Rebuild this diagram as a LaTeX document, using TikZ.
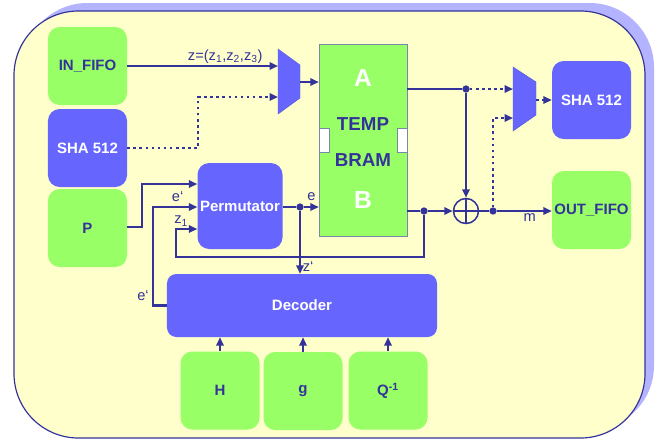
\documentclass[tikz,border=0pt]{standalone}
\usepackage{fontspec}
\setmainfont{Liberation Sans}
\usepackage{tikz}
\usetikzlibrary{arrows.meta,calc,positioning}

\definecolor{boxgreen}{HTML}{99FF66}
\definecolor{boxblue}{HTML}{6666FF}
\definecolor{linkblue}{HTML}{333399}
\definecolor{bgyellow}{HTML}{FFFFCC}
\definecolor{shadowblue}{HTML}{B3B3FF}
\definecolor{bramedge}{HTML}{7788AA}

\tikzset{
  greenbox/.style={fill=boxgreen, rounded corners=10pt, inner sep=0pt,
    minimum width=2.37cm, minimum height=2.34cm, text=linkblue,
    font=\fontsize{12.8}{14}\selectfont\bfseries},
  bluebox/.style={greenbox, fill=boxblue, text=white},
  wire/.style={draw=linkblue, line width=1.9pt},
  dotwire/.style={wire, dash pattern=on 2.2pt off 3pt},
  tip/.style={-{Triangle[length=2.5mm,width=2.2mm]}},
  jdot/.style={circle, fill=linkblue, inner sep=0pt, minimum size=2.2mm},
  lbl/.style={text=linkblue, font=\fontsize{12.5}{14}\selectfont, inner sep=1.5pt},
  bramtxt/.style={font=\fontsize{16}{18}\selectfont\bfseries, text=linkblue}
}

\begin{document}
\begin{tikzpicture}[x=0.03cm, y=-0.03cm]
  \useasboundingbox (0,0) rectangle (668,439);
  % frame with shadow
  \fill[shadowblue, rounded corners=55pt] (23,3) rectangle (654,430);
  \filldraw[fill=bgyellow, draw=linkblue, line width=1pt, rounded corners=55pt] (14,11) rectangle (645,438);

  % left column
  \node[greenbox] (infifo) at (87.5,66) {IN\_FIFO};
  \node[bluebox] (shal) at (87.5,148) {SHA 512};
  \node[greenbox] (p) at (87.5,228) {P};
  \node[bluebox, minimum width=2.55cm, minimum height=2.58cm] (perm) at (240,206) {Permutator};

  % input multiplexer
  \filldraw[fill=boxblue, draw=boxblue!85!black, thin] (278,49) -- (300,65) -- (300,98) -- (278,114) -- cycle;
  \coordinate (muxa1) at (278,66);
  \coordinate (muxa2) at (278,97);
  \coordinate (muxao) at (300,82);

  % BRAM
  \node[fill=boxgreen, draw=bramedge, inner sep=0pt, minimum width=2.64cm, minimum height=5.76cm] (bram) at (363,140) {};
  \filldraw[fill=white, draw=bramedge] ($(bram.west)+(0,-12)$) rectangle ($(bram.west)+(10,12)$);
  \filldraw[fill=white, draw=bramedge] ($(bram.east)+(-10,-12)$) rectangle ($(bram.east)+(0,12)$);
  \node[bramtxt, font=\fontsize{21}{22}\selectfont\bfseries, text=white] (porta) at (363,78) {A};
  \node[bramtxt] (temp) at (363,124) {TEMP};
  \node[bramtxt] (bramlbl) at (363,160) {BRAM};
  \node[bramtxt, font=\fontsize{21}{22}\selectfont\bfseries, text=white] (portb) at (363,200) {B};

  % output side
  \filldraw[fill=boxblue, draw=boxblue!85!black, thin] (513,67) -- (536,82) -- (536,115) -- (513,131) -- cycle;
  \coordinate (muxb1) at (513,89);
  \coordinate (muxb2) at (513,118);
  \coordinate (muxbo) at (536,100);
  \node[bluebox] (shar) at (591.5,100) {SHA 512};
  \node[greenbox] (outfifo) at (591.5,210) {OUT\_FIFO};
  \node[circle, draw=linkblue, line width=1.3pt, fill=bgyellow, minimum size=0.75cm, inner sep=0pt] (xor) at (466,211) {};
  \draw[linkblue, line width=1.3pt] (xor.north) -- (xor.south) (xor.west) -- (xor.east);

  % decoder and its inputs
  \node[bluebox, rounded corners=8pt, minimum width=8.1cm, minimum height=1.89cm] (dec) at (302,305.5) {Decoder};
  \node[greenbox] (h) at (220,390.5) {H};
  \node[greenbox] (g) at (303,391) {g};
  \node[greenbox] (qinv) at (388,390.5) {Q\textsuperscript{-1}};

  % junctions
  \node[jdot] (edot) at (300,207) {};
  \node[jdot] (adot) at (466,89) {};
  \node[jdot] (bdot) at (424,211) {};
  \node[jdot] (mdot) at (493,211) {};

  % connections
  \draw[wire,tip] (infifo.east |- muxa1) -- (muxa1) node[lbl, above, pos=0.65] {z=(z\textsubscript{1},z\textsubscript{2},z\textsubscript{3})};
  \draw[dotwire,tip] (shal.east) -- ++(71,0) |- (muxa2);
  \draw[wire,tip] (muxao) -- (muxao -| bram.west);
  \draw[wire,tip] (p.east |- 0,227) -- ++(15,0) |- ($(perm.west)+(0,-22)$);
  \draw[wire,tip] (dec.west) -- ++(-14,0) |- (perm.west |- edot) node[lbl, above, pos=0.78, yshift=2.5pt] {e‘};
  \node[lbl] (elbl) at (143,296) {e‘};
  \draw[wire,tip] (bdot) |- ++(-248,46) |- ($(perm.west)+(0,23)$) node[lbl, above, pos=0.62] {z\textsubscript{1}};
  \draw[wire] (perm.east |- edot) -- (edot);
  \draw[wire,tip] (edot) -- (edot -| bram.west) node[lbl, above, pos=0.5, yshift=3pt] {e};
  \draw[wire,tip] (edot) -- (edot |- dec.north) node[lbl, right, pos=0.88] {z‘};
  \draw[wire] (bram.east |- adot) -- (adot);
  \draw[dotwire,tip] (adot) -- (muxb1);
  \draw[wire,tip] (adot) -- (xor.north);
  \draw[wire] (bram.east |- bdot) -- (bdot);
  \draw[wire,tip] (bdot) -- (xor.west);
  \draw[wire] (xor.east) -- (mdot);
  \draw[wire,tip] (mdot) -- (mdot -| outfifo.west) node[lbl, below, pos=0.6] {m};
  \draw[dotwire,tip] (mdot) |- (muxb2);
  \draw[dotwire,tip] (muxbo) -- (shar.west |- muxbo);
  \foreach \src in {h,g,qinv}
    \draw[wire,tip] (\src.north) -- (\src.north |- dec.south);
\end{tikzpicture}
\end{document}
